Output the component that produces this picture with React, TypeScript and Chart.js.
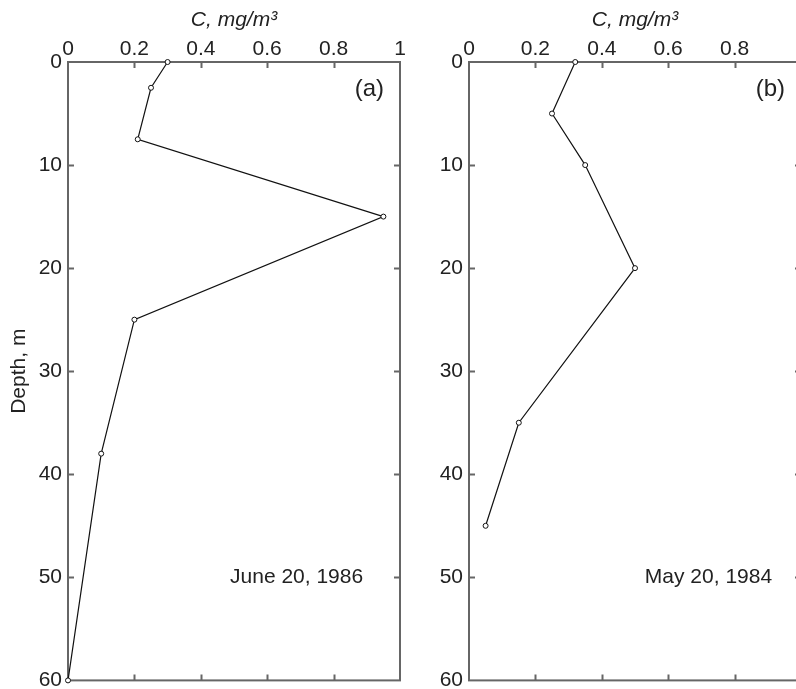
import React, { useEffect, useRef } from "react";
import { Chart, registerables } from "chart.js";

Chart.register(...registerables);

// ---- data ----
const panelAConc = [0.30, 0.25, 0.21, 0.95, 0.20, 0.10, 0.00];
const panelADepth = [0, 2.5, 7.5, 15, 25, 38, 60];
const panelBConc = [0.32, 0.25, 0.35, 0.50, 0.15, 0.05];
const panelBDepth = [0, 5, 10, 20, 35, 45];

const xTickValues = [0, 0.2, 0.4, 0.6, 0.8, 1];
const xTickLabels = ["0", "0.2", "0.4", "0.6", "0.8", "1"];
const yTickValues = [0, 10, 20, 30, 40, 50, 60];
const yTickLabels = ["0", "10", "20", "30", "40", "50", "60"];

const xTitle = "C, mg/m\u00B3";
const yTitle = "Depth, m";

const FONT = "'Liberation Sans', Arial, Helvetica, sans-serif";
const TEXT = "#222";
const FRAME = "#666";

type PanelProps = {
  conc: number[];
  depth: number[];
  tag: string;
  date: string;
  dateX: number;
  left: number;
  showYTitle: boolean;
};

function Panel({ conc, depth, tag, date, dateX, left, showYTitle }: PanelProps) {
  const ref = useRef<HTMLCanvasElement | null>(null);

  useEffect(() => {
    if (!ref.current) return;
    const framePlugin = {
      id: "frame",
      beforeDatasetsDraw(chart: any) {
        const { ctx, chartArea: a, scales } = chart;
        const xs = scales.x;
        const ys = scales.y;
        ctx.save();
        ctx.strokeStyle = FRAME;
        ctx.lineWidth = 2;
        ctx.strokeRect(a.left, a.top, a.right - a.left, a.bottom - a.top);
        const tl = 6;
        ctx.beginPath();
        xTickValues.slice(1, -1).forEach((v) => {
          const px = Math.round(xs.getPixelForValue(v)) + 0.5;
          ctx.moveTo(px, a.top);
          ctx.lineTo(px, a.top + tl);
          ctx.moveTo(px, a.bottom);
          ctx.lineTo(px, a.bottom - tl);
        });
        yTickValues.slice(1, -1).forEach((v) => {
          const py = Math.round(ys.getPixelForValue(v)) + 0.5;
          ctx.moveTo(a.left, py);
          ctx.lineTo(a.left + tl, py);
          ctx.moveTo(a.right, py);
          ctx.lineTo(a.right - tl, py);
        });
        ctx.stroke();
        ctx.restore();
      },
      afterDraw(chart: any) {
        const { ctx, scales } = chart;
        const xs = scales.x;
        const ys = scales.y;
        ctx.save();
        ctx.fillStyle = TEXT;
        ctx.textAlign = "right";
        ctx.textBaseline = "middle";
        ctx.font = `24px ${FONT}`;
        ctx.fillText(tag, xs.getPixelForValue(0.952), ys.getPixelForValue(2.7));
        ctx.font = `21px ${FONT}`;
        ctx.fillText(date, xs.getPixelForValue(dateX), ys.getPixelForValue(50));
        ctx.restore();
      },
    };

    const chart = new Chart(ref.current, {
      type: "scatter",
      data: {
        datasets: [
          {
            data: conc.map((c, i) => ({ x: c, y: depth[i] })),
            showLine: true,
            borderColor: "#111",
            borderWidth: 1.2,
            pointRadius: 2.5,
            pointBackgroundColor: "#fff",
            pointBorderColor: "#111",
            pointBorderWidth: 1,
            clip: false as any,
          },
        ],
      },
      options: {
        responsive: false,
        animation: false,
        layout: { padding: { left: 0, top: 0, right: 20, bottom: 9 } },
        plugins: { legend: { display: false }, tooltip: { enabled: false } },
        scales: {
          x: {
            type: "linear",
            position: "top",
            min: 0,
            max: 1,
            afterBuildTicks: (s: any) => {
              s.ticks = xTickValues.map((v) => ({ value: v }));
            },
            afterFit: (s: any) => {
              s.height = 62;
            },
            grid: { display: false, drawTicks: false },
            border: { display: false },
            ticks: {
              padding: 0,
              color: TEXT,
              font: { family: FONT, size: 21 },
              maxRotation: 0,
              autoSkip: false,
              callback: (v: any) => {
                const i = xTickValues.findIndex((t) => Math.abs(t - Number(v)) < 1e-9);
                return i >= 0 ? xTickLabels[i] : "";
              },
            },
            title: {
              display: true,
              text: xTitle,
              color: TEXT,
              font: { family: FONT, size: 21, style: "italic" },
              padding: { top: 8, bottom: 0 },
            },
          },
          y: {
            type: "linear",
            position: "left",
            reverse: true,
            min: 0,
            max: 60,
            afterBuildTicks: (s: any) => {
              s.ticks = yTickValues.map((v) => ({ value: v }));
            },
            afterFit: (s: any) => {
              s.width = 68;
            },
            grid: { display: false, drawTicks: false },
            border: { display: false },
            ticks: {
              padding: 6,
              color: TEXT,
              font: { family: FONT, size: 21 },
              autoSkip: false,
              callback: (v: any) => {
                const i = yTickValues.findIndex((t) => Math.abs(t - Number(v)) < 1e-9);
                return i >= 0 ? yTickLabels[i] : "";
              },
            },
            title: {
              display: showYTitle,
              text: yTitle,
              color: TEXT,
              font: { family: FONT, size: 21 },
              padding: { top: 7, bottom: 0 },
            },
          },
        },
      },
      plugins: [framePlugin],
    });
    return () => chart.destroy();
  }, [conc, depth, tag, date, dateX, showYTitle]);

  return (
    <canvas
      ref={ref}
      width={420}
      height={699}
      style={{ position: "absolute", left, top: 0, display: "block" }}
    />
  );
}

export default function App() {
  return (
    <div
      style={{
        position: "absolute",
        left: 0,
        top: 0,
        width: 796,
        height: 689,
        overflow: "hidden",
        background: "#fff",
      }}
    >
      <Panel
        conc={panelAConc}
        depth={panelADepth}
        tag="(a)"
        date="June 20, 1986"
        dateX={0.889}
        left={0}
        showYTitle={true}
      />
      <Panel
        conc={panelBConc}
        depth={panelBDepth}
        tag="(b)"
        date="May 20, 1984"
        dateX={0.913}
        left={401}
        showYTitle={false}
      />
    </div>
  );
}
